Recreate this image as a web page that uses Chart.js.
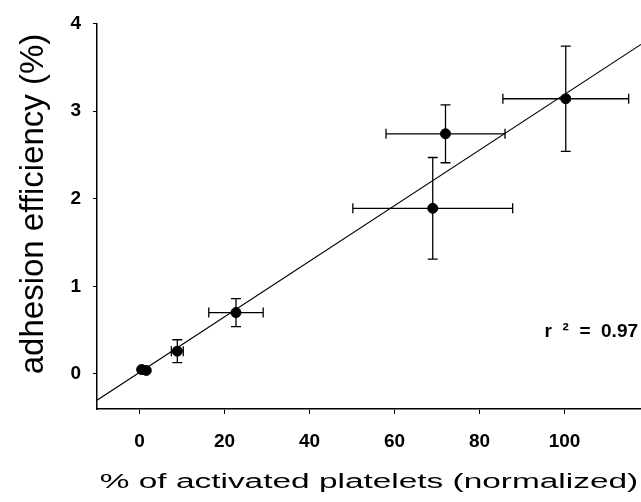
<!DOCTYPE html>
<html>
<head>
<meta charset="utf-8">
<script src="https://cdn.jsdelivr.net/npm/chart.js@4.4.1/dist/chart.umd.min.js"></script>
<style>
  html, body { margin: 0; padding: 0; background: #fff; }
</style>
</head>
<body>
<canvas id="adhesionChart" width="641" height="502"></canvas>
<script>
// values
const activatedPct = [0.5, 1.6, 8.9, 22.7, 69.0, 72.0, 100.3];
const adhesionEff  = [0.05, 0.04, 0.26, 0.70, 1.89, 2.74, 3.14];
const activatedErr = [0, 0, 1.4, 6.4, 18.8, 14.0, 14.8];
const adhesionErr  = [0, 0, 0.13, 0.16, 0.58, 0.33, 0.60];

// regression line end points
const fitX = [-10, 118];
const fitY = [-0.30, 3.76];

const xTicks = [0, 20, 40, 60, 80, 100];
const yTicks = [0, 1, 2, 3, 4];

const xTitle = '% of activated platelets (normalized)';
const yTitle = 'adhesion efficiency (%)';
const rLabel = 'r  \u00b2  =  0.97';

const FONT = '"Liberation Sans", Arial, sans-serif';

const errorBars = {
  id: 'errorBars',
  beforeDatasetsDraw (chart) {
    const { ctx, scales: { x, y } } = chart;
    ctx.save();
    ctx.strokeStyle = '#000';
    ctx.lineWidth = 1.3;
    activatedPct.forEach((xv, i) => {
      const px = x.getPixelForValue(xv);
      const py = y.getPixelForValue(adhesionEff[i]);
      const cap = 5;
      ctx.beginPath();
      if (activatedErr[i] > 0) {
        const x0 = x.getPixelForValue(xv - activatedErr[i]);
        const x1 = x.getPixelForValue(xv + activatedErr[i]);
        ctx.moveTo(x0, py); ctx.lineTo(x1, py);
        ctx.moveTo(x0, py - cap); ctx.lineTo(x0, py + cap);
        ctx.moveTo(x1, py - cap); ctx.lineTo(x1, py + cap);
      }
      if (adhesionErr[i] > 0) {
        const y0 = y.getPixelForValue(adhesionEff[i] - adhesionErr[i]);
        const y1 = y.getPixelForValue(adhesionEff[i] + adhesionErr[i]);
        ctx.moveTo(px, y0); ctx.lineTo(px, y1);
        ctx.moveTo(px - cap, y0); ctx.lineTo(px + cap, y0);
        ctx.moveTo(px - cap, y1); ctx.lineTo(px + cap, y1);
      }
      ctx.stroke();
    });
    ctx.restore();
  }
};

const labels = {
  id: 'labels',
  afterDraw (chart) {
    const { ctx, chartArea, scales: { x, y } } = chart;
    ctx.save();
    ctx.fillStyle = '#000';

    // x title, drawn wide like the original
    ctx.font = '20px ' + FONT;
    ctx.textAlign = 'center';
    ctx.textBaseline = 'alphabetic';
    ctx.save();
    ctx.translate((chartArea.left + chartArea.right) / 2, 488);
    ctx.scale(1.67, 1);
    ctx.fillText(xTitle, 0, 0);
    ctx.restore();

    // y title
    ctx.font = '33px ' + FONT;
    ctx.save();
    ctx.translate(43, 204);
    ctx.rotate(-Math.PI / 2);
    ctx.fillText(yTitle, 0, 0);
    ctx.restore();

    // r squared
    ctx.font = 'bold 19px ' + FONT;
    ctx.textAlign = 'right';
    ctx.textBaseline = 'middle';
    ctx.fillText(rLabel, x.getPixelForValue(117.3), y.getPixelForValue(0.48));
    ctx.restore();
  }
};

new Chart(document.getElementById('adhesionChart'), {
  type: 'scatter',
  data: {
    datasets: [
      {
        type: 'line',
        data: fitX.map((v, i) => ({ x: v, y: fitY[i] })),
        borderColor: '#000',
        borderWidth: 1.1,
        pointRadius: 0,
        fill: false
      },
      {
        data: activatedPct.map((v, i) => ({ x: v, y: adhesionEff[i] })),
        backgroundColor: '#000',
        borderColor: '#000',
        pointRadius: 5,
        pointHoverRadius: 5
      }
    ]
  },
  options: {
    responsive: false,
    animation: false,
    layout: { autoPadding: false, padding: { top: 23, right: 0, left: 0, bottom: 0 } },
    plugins: { legend: { display: false }, tooltip: { enabled: false } },
    scales: {
      x: {
        type: 'linear',
        min: -10,
        max: 118,
        afterBuildTicks: (scale) => { scale.ticks = xTicks.map(v => ({ value: v })) },
        afterFit: (scale) => {
          scale.height = 93;
          scale.paddingLeft = 0;
          scale.paddingRight = 0;
        },
        border: { display: true, color: '#000', width: 1.5 },
        grid: { drawOnChartArea: false, drawTicks: true, tickLength: 5, color: '#000', lineWidth: 1 },
        ticks: { color: '#000', padding: 16, font: { family: FONT, size: 19, weight: 'bold' } }
      },
      y: {
        type: 'linear',
        min: -0.4,
        max: 4,
        afterBuildTicks: (scale) => { scale.ticks = yTicks.map(v => ({ value: v })) },
        afterFit: (scale) => { scale.width = 97 },
        border: { display: true, color: '#000', width: 1.5 },
        grid: { drawOnChartArea: false, drawTicks: true, tickLength: 4, color: '#000', lineWidth: 1 },
        ticks: { color: '#000', padding: 12, font: { family: FONT, size: 19, weight: 'bold' } }
      }
    }
  },
  plugins: [errorBars, labels]
});
</script>
</body>
</html>
